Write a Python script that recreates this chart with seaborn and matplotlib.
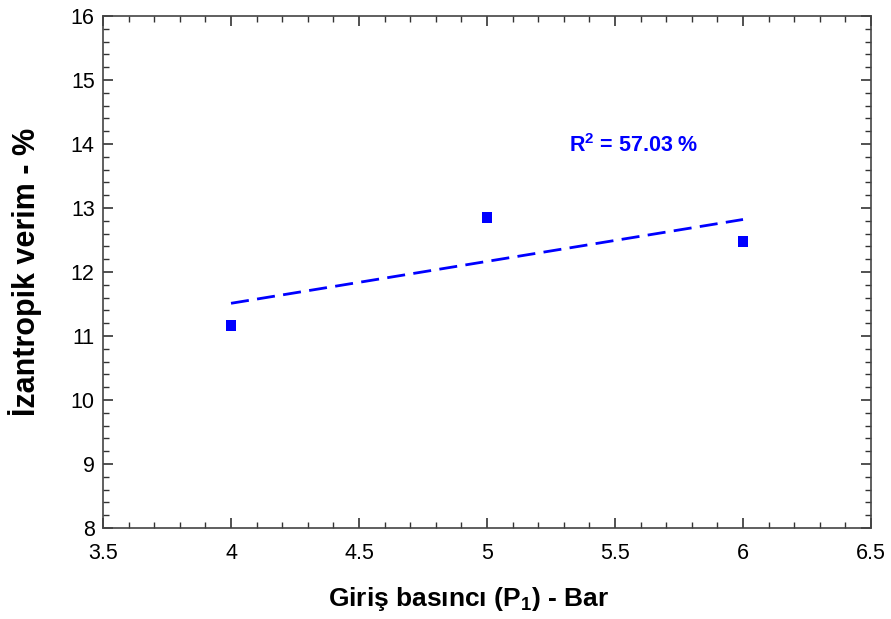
import numpy as np
import matplotlib
matplotlib.use('Agg')
import matplotlib.pyplot as plt
import pandas as pd
import seaborn as sns
from matplotlib.ticker import MultipleLocator

# Daten
giris_basinci = [4, 5, 6]  # Bar
verim = [11.17, 12.85, 12.48]  # %
r2_text = r'R$^\mathbf{2}$ = 57.03 %'

df = pd.DataFrame({'P1': giris_basinci, 'verim': verim})

sns.set_theme(style='white')
plt.rcParams['font.family'] = ['Liberation Sans', 'DejaVu Sans']
plt.rcParams['mathtext.fontset'] = 'custom'
plt.rcParams['mathtext.rm'] = 'Liberation Sans'
plt.rcParams['mathtext.bf'] = 'Liberation Sans:bold'
plt.rcParams['text.color'] = 'black'
plt.rcParams['axes.labelcolor'] = 'black'

fig, ax = plt.subplots(figsize=(8.91, 6.19), dpi=100)
fig.subplots_adjust(left=0.1156, right=0.9776, top=0.974, bottom=0.147)

sns.regplot(data=df, x='P1', y='verim', ax=ax, ci=None, truncate=True,
            marker='s',
            scatter_kws={'color': '#0000ff', 's': 60, 'edgecolors': 'none', 'alpha': 1},
            line_kws={'color': '#0000ff', 'linestyle': (0, (6.5, 3)), 'linewidth': 2})

ax.text(5.32, 13.98, r2_text, color='#0000ff', fontsize=15.5, fontweight='bold',
        va='center', ha='left')

ax.set_xlim(3.5, 6.5)
ax.set_ylim(8, 16)
ax.xaxis.set_major_locator(MultipleLocator(0.5))
ax.xaxis.set_minor_locator(MultipleLocator(0.1))
ax.yaxis.set_major_locator(MultipleLocator(1))
ax.yaxis.set_minor_locator(MultipleLocator(0.2))
ax.set_xticks([3.5, 4, 4.5, 5, 5.5, 6, 6.5])
ax.set_xticklabels(['3.5', '4', '4.5', '5', '5.5', '6', '6.5'])

ax.tick_params(which='both', direction='in', top=True, right=True, bottom=True, left=True,
               colors='#333333', labelcolor='black', labelsize=15.5)
ax.tick_params(axis='x', pad=11)
ax.tick_params(axis='y', pad=6)
ax.tick_params(which='major', length=7, width=1.2)
ax.tick_params(which='minor', length=4, width=1)
for s in ax.spines.values():
    s.set_color('#444444')
    s.set_linewidth(1.2)

ax.set_xlabel(r'Giriş basıncı (P$_\mathbf{1}$) - Bar', fontsize=19, fontweight='bold')
ax.set_ylabel('İzantropik verim - %', fontsize=22, fontweight='bold')
ax.xaxis.set_label_coords(0.476, -0.111)
ax.yaxis.set_label_coords(-0.079, 0.5)

plt.savefig('out.png', dpi=100)
